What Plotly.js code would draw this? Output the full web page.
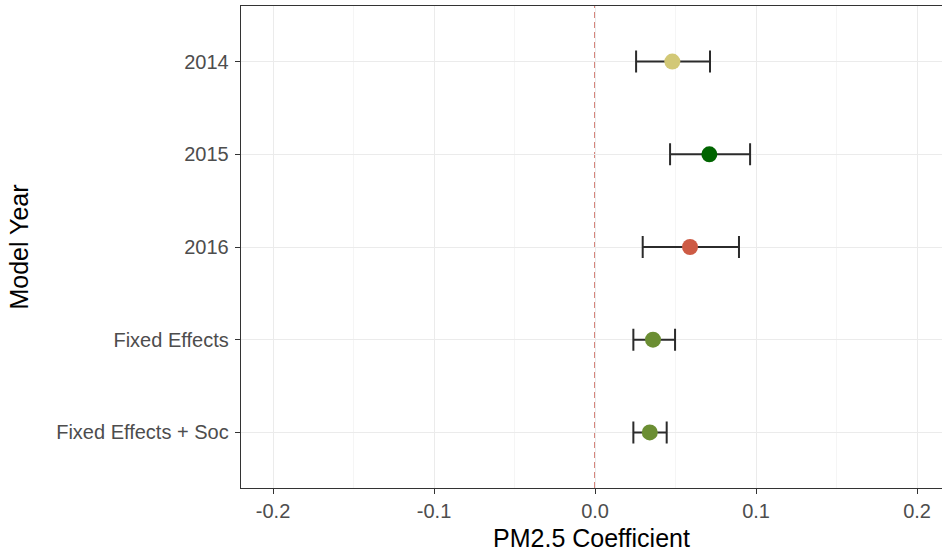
<!DOCTYPE html>
<html>
<head>
<meta charset="utf-8">
<script src="https://cdn.plot.ly/plotly-3.0.1.min.js"></script>
<style>html,body{margin:0;padding:0;background:#fff;}#chart{width:942px;height:552px;}</style>
</head>
<body>
<div id="chart"></div>
<script>
// Data
const models = ["2014", "2015", "2016", "Fixed Effects", "Fixed Effects + Soc"];
const estimates = [0.048, 0.071, 0.059, 0.036, 0.034];
const lower = [0.0255, 0.0466, 0.0296, 0.0238, 0.0238];
const upper = [0.0714, 0.0963, 0.0894, 0.0497, 0.0445];
const colors = ["#D2C876", "#006400", "#CD5B45", "#6B8E33", "#6B8E33"];
const xTicks = [-0.2, -0.1, 0.0, 0.1, 0.2];
const xTickLabels = ["-0.2", "-0.1", "0.0", "0.1", "0.2"];
const refLine = 0;

const errPlus = estimates.map((v, i) => upper[i] - v);
const errMinus = estimates.map((v, i) => v - lower[i]);

const font = "Liberation Sans, Arial, sans-serif";

const trace = {
  type: "scatter",
  mode: "markers",
  x: estimates,
  y: models,
  marker: {color: colors, size: 16, line: {width: 0}},
  error_x: {
    type: "data", symmetric: false,
    array: errPlus, arrayminus: errMinus,
    color: "#2b2b2b", thickness: 2, width: 11
  },
  hoverinfo: "x+y",
  showlegend: false
};

const layout = {
  width: 942, height: 552,
  margin: {l: 241, r: 0, t: 6, b: 64},
  paper_bgcolor: "#ffffff",
  plot_bgcolor: "#ffffff",
  font: {family: font},
  xaxis: {
    range: [-0.2199, 0.2155],
    tickvals: xTicks, ticktext: xTickLabels,
    showgrid: true, gridcolor: "#EBEBEB", gridwidth: 1,
    minor: {dtick: 0.05, tick0: 0, showgrid: true, gridcolor: "#F5F5F5", gridwidth: 1, ticklen: 0},
    zeroline: false,
    showline: true, mirror: true, linecolor: "#333333", linewidth: 1.3,
    ticks: "outside", ticklen: 5, tickcolor: "#333333", tickwidth: 1,
    tickfont: {size: 20, color: "#4D4D4D", family: font},
    title: {text: "PM2.5 Coefficient", font: {size: 25, color: "#000000", family: font}, standoff: 11}
  },
  yaxis: {
    type: "category",
    categoryorder: "array",
    categoryarray: models.slice().reverse(),
    range: [-0.6, 4.6],
    showgrid: true, gridcolor: "#EBEBEB", gridwidth: 1,
    zeroline: false,
    showline: true, mirror: false, linecolor: "#333333", linewidth: 1.3,
    ticks: "outside", ticklen: 5, tickcolor: "#333333", tickwidth: 1,
    ticklabelstandoff: 2,
    tickfont: {size: 20, color: "#4D4D4D", family: font},
    title: {text: "Model Year", font: {size: 25, color: "#000000", family: font}, standoff: 20}
  },
  shapes: [{
    type: "line", xref: "x", yref: "paper",
    x0: refLine, x1: refLine, y0: 0, y1: 1,
    line: {color: "#C0473A", width: 1.4, dash: "6px,4px"},
    layer: "below"
  }]
};

Plotly.newPlot("chart", [trace], layout, {displayModeBar: false, staticPlot: true});
</script>
</body>
</html>
